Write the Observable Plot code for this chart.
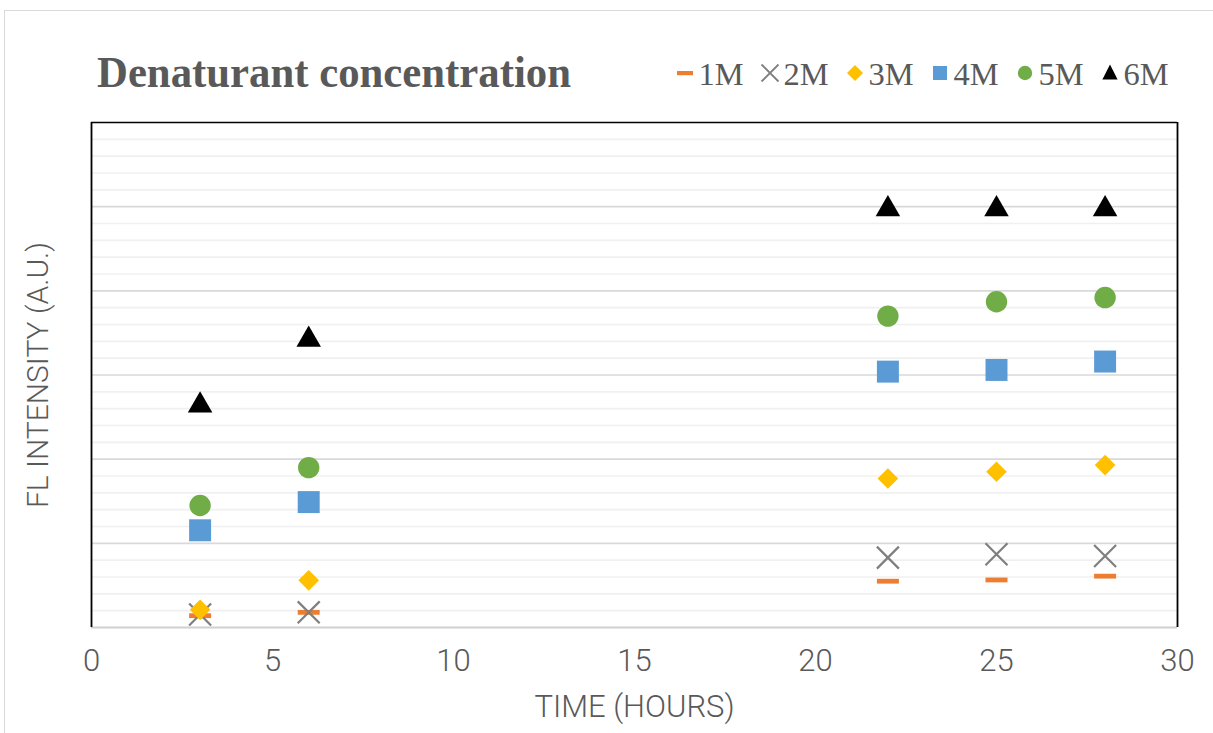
<!DOCTYPE html>
<html>
<head>
<meta charset="utf-8">
<script src="https://cdn.jsdelivr.net/npm/d3@7"></script>
<script src="https://cdn.jsdelivr.net/npm/@observablehq/plot@0.6"></script>
<style>
  body { margin: 0; background: #fff; }
  #wrap { position: relative; width: 1213px; height: 733px; overflow: hidden; background: #fff; }
  #border { position: absolute; left: 4px; top: 10px; width: 1230px; height: 760px; border: 1.5px solid #d9d9d9; box-sizing: border-box; }
  #header { position: absolute; left: 0; top: 0; }
  #chart { position: absolute; left: 0; top: 110px; }
</style>
</head>
<body>
<div id="wrap">
  <div id="border"></div>
  <svg id="header" width="1213" height="110"></svg>
  <div id="chart"></div>
</div>
<script>
// ---- data ----
const title = "Denaturant concentration";
const seriesNames = ["1M", "2M", "3M", "4M", "5M", "6M"];
const seriesColors = ["#ED7D31", "#7F7F7F", "#FFC000", "#5B9BD5", "#70AD47", "#000000"];
const hours = [3, 6, 22, 25, 28];
const m1 = [0.14, 0.18, 0.55, 0.565, 0.61];
const m2 = [0.155, 0.18, 0.83, 0.87, 0.85];
const m3 = [0.21, 0.56, 1.77, 1.85, 1.93];
const m4 = [1.155, 1.49, 3.04, 3.06, 3.16];
const m5 = [1.45, 1.90, 3.70, 3.87, 3.92];
const m6 = [2.64, 3.42, 4.97, 4.97, 4.97];
const xTicks = [0, 5, 10, 15, 20, 25, 30];
const yMajor = [1, 2, 3, 4, 5];
const xLabel = "TIME (HOURS)";
const yLabel = "FL INTENSITY (A.U.)";

const seriesValues = [m1, m2, m3, m4, m5, m6];
const yMinor = d3.range(0.2, 6, 0.2).filter(v => Math.abs(v - Math.round(v)) > 1e-6);

// custom dash symbol for 1M
const dashSymbol = { draw(ctx) { ctx.rect(-11, -2.4, 22, 4.8); } };

const symbolSpec = [
  { symbol: dashSymbol, r: 5, fill: seriesColors[0] },
  { symbol: "times", r: 10.05, stroke: seriesColors[1], strokeWidth: 2.2, fill: "none" },
  { symbol: "diamond2", r: 9.3, fill: seriesColors[2] },
  { symbol: "square", r: 12.4, fill: seriesColors[3] },
  { symbol: "circle", r: 10.7, fill: seriesColors[4] },
  { symbol: "triangle", r: 9.1, fill: seriesColors[5] }
];

const dotMarks = seriesValues.map((vals, i) => {
  const rows = hours.map((h, j) => ({ h, v: vals[j] }));
  const s = symbolSpec[i];
  const opts = { x: "h", y: "v", symbol: s.symbol, r: s.r };
  if (s.stroke) { opts.stroke = s.stroke; opts.strokeWidth = s.strokeWidth; opts.fill = "none"; }
  else { opts.fill = s.fill; opts.stroke = "none"; }
  return Plot.dot(rows, opts);
});

const chart = Plot.plot({
  width: 1213,
  height: 623,
  marginLeft: 91,
  marginRight: 36,
  marginTop: 12,
  marginBottom: 106,
  x: { domain: [0, 30] },
  y: { domain: [0, 6], axis: null },
  style: { fontFamily: "Roboto", color: "#595959", background: "transparent", overflow: "visible" },
  marks: [
    Plot.ruleY(yMinor, { stroke: "#f0f0f0", strokeWidth: 1.6 }),
    Plot.ruleY(yMajor, { stroke: "#d9d9d9", strokeWidth: 1.6 }),
    Plot.ruleY([0], { stroke: "#d0d0d0", strokeWidth: 2 }),
    Plot.ruleY([6], { stroke: "#000", strokeWidth: 1.6 }),
    Plot.ruleX([0, 30], { stroke: "#000", strokeWidth: 1.8 }),
    Plot.axisX({ ticks: xTicks, tickSize: 0, tickPadding: 21, fontSize: 31, fontWeight: 300, label: null, fill: "#595959" }),
    Plot.text([xLabel], { frameAnchor: "bottom", lineAnchor: "middle", textAnchor: "middle", dy: 80, fontSize: 31, fontWeight: 300, fill: "#595959" }),
    Plot.text([yLabel], { frameAnchor: "left", lineAnchor: "middle", textAnchor: "middle", rotate: -90, dx: -53, fontSize: 30, fontWeight: 300, fill: "#595959" }),
    ...dotMarks
  ]
});
document.getElementById("chart").appendChild(chart);

// ---- header: title + legend ----
const header = d3.select("#header");
header.append("text")
  .attr("x", 97).attr("y", 87)
  .attr("font-family", "Liberation Serif").attr("font-weight", "bold").attr("font-size", 44)
  .attr("textLength", 474).attr("lengthAdjust", "spacingAndGlyphs")
  .attr("fill", "#595959").text(title);

const legendX0 = 685, legendStep = 85, legendY = 73;
seriesNames.forEach((name, i) => {
  const cx = legendX0 + i * legendStep;
  const g = header.append("g").attr("transform", `translate(${cx},${legendY})`);
  if (i === 0) g.append("rect").attr("x", -8).attr("y", -2).attr("width", 16).attr("height", 4.2).attr("fill", seriesColors[0]);
  else if (i === 1) g.append("path").attr("d", "M-8.5,-8.5L8.5,8.5M-8.5,8.5L8.5,-8.5").attr("stroke", seriesColors[1]).attr("stroke-width", 1.8).attr("fill", "none");
  else if (i === 2) g.append("path").attr("d", "M0,-8L8,0L0,8L-8,0Z").attr("fill", seriesColors[2]);
  else if (i === 3) g.append("rect").attr("x", -7).attr("y", -7).attr("width", 14).attr("height", 14).attr("fill", seriesColors[3]);
  else if (i === 4) g.append("circle").attr("r", 7.2).attr("fill", seriesColors[4]);
  else g.append("path").attr("d", "M0,-8.5L7.6,6.5L-7.6,6.5Z").attr("fill", seriesColors[5]);
  header.append("text")
    .attr("x", cx + 13.5).attr("y", 85)
    .attr("font-family", "Liberation Serif").attr("font-size", 32.5)
    .attr("fill", "#595959").text(name);
});
</script>
</body>
</html>
